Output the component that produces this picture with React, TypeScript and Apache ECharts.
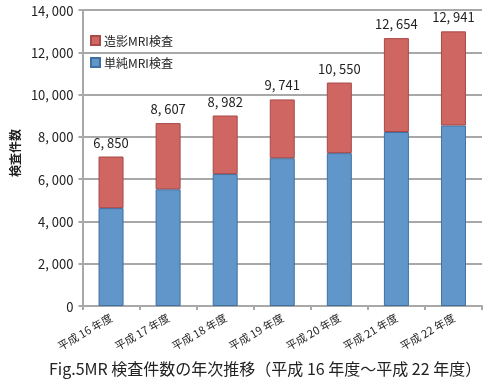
import React, { useEffect, useRef } from "react";
import * as echarts from "echarts";

const categories = ["平成 16 年度", "平成 17 年度", "平成 18 年度", "平成 19 年度", "平成 20 年度", "平成 21 年度", "平成 22 年度"];
const plainValues = [4630, 5520, 6240, 6990, 7230, 8230, 8540];
const contrastValues = [2440, 3130, 2770, 2780, 3340, 4440, 4450];
const totalLabels = ["6, 850", "8, 607", "8, 982", "9, 741", "10, 550", "12, 654", "12, 941"];
const yTicks = { min: 0, max: 14000, interval: 2000 };

const FONT = "'Noto Sans CJK JP', 'Noto Sans', sans-serif";

export default function App() {
  const ref = useRef<HTMLDivElement>(null);
  useEffect(() => {
    if (!ref.current) return;
    const chart = echarts.init(ref.current, undefined, { renderer: "svg" });
    chart.setOption({
      animation: false,
      textStyle: { fontFamily: FONT },
      title: {
        text: "Fig.5MR 検査件数の年次推移（平成 16 年度～平成 22 年度）",
        left: 49,
        top: 360,
        padding: 0,
        textStyle: { fontSize: 16, fontWeight: "normal", color: "#222", fontFamily: FONT },
      },
      legend: {
        orient: "vertical",
        left: 90,
        top: 34,
        padding: 0,
        itemWidth: 9,
        itemHeight: 9,
        itemGap: 9,
        icon: "rect",
        data: ["造影MRI検査", "単純MRI検査"],
        textStyle: { fontSize: 12, color: "#222", lineHeight: 13, padding: [0, 0, 0, -1] },
      },
      grid: { left: 62, right: 2, top: 10, bottom: 75 },
      xAxis: {
        type: "category",
        data: categories,
        axisLine: { lineStyle: { color: "#A8A8A8", width: 2 } },
        axisTick: { show: true, length: 4, lineStyle: { color: "#A8A8A8", width: 2 } },
        axisLabel: { rotate: 30, fontSize: 11, color: "#222", margin: 10 },
      },
      yAxis: {
        type: "value",
        min: yTicks.min,
        max: yTicks.max,
        interval: yTicks.interval,
        name: "検査件数",
        nameLocation: "middle",
        nameGap: 55,
        nameTextStyle: { fontSize: 12, fontWeight: "bold", color: "#222", padding: [0, 0, 0, 10] },
        axisLine: { show: true, lineStyle: { color: "#A8A8A8", width: 2 } },
        axisTick: { show: true, length: 4, lineStyle: { color: "#A8A8A8", width: 2 } },
        axisLabel: {
          fontSize: 13,
          color: "#222",
          margin: 9,
          formatter: (v: number) => v.toLocaleString("en-US").replace(",", ", "),
        },
        splitLine: { lineStyle: { color: "#A8A8A8", width: 2 } },
      },
      series: [
        {
          name: "単純MRI検査",
          type: "bar",
          stack: "total",
          barWidth: 25,
          data: plainValues,
          itemStyle: { color: "#6096C9", borderColor: "#41709F", borderWidth: 1 },
        },
        {
          name: "造影MRI検査",
          type: "bar",
          stack: "total",
          barWidth: 25,
          data: contrastValues,
          itemStyle: { color: "#CF6661", borderColor: "#A8494A", borderWidth: 1 },
          label: {
            show: true,
            position: "top",
            distance: 8,
            fontSize: 13,
            color: "#222",
            formatter: (p: any) => totalLabels[p.dataIndex],
          },
        },
      ],
    });
    return () => chart.dispose();
  }, []);
  return <div ref={ref} style={{ position: "fixed", left: 0, top: 0, width: 484, height: 381 }} />;
}
